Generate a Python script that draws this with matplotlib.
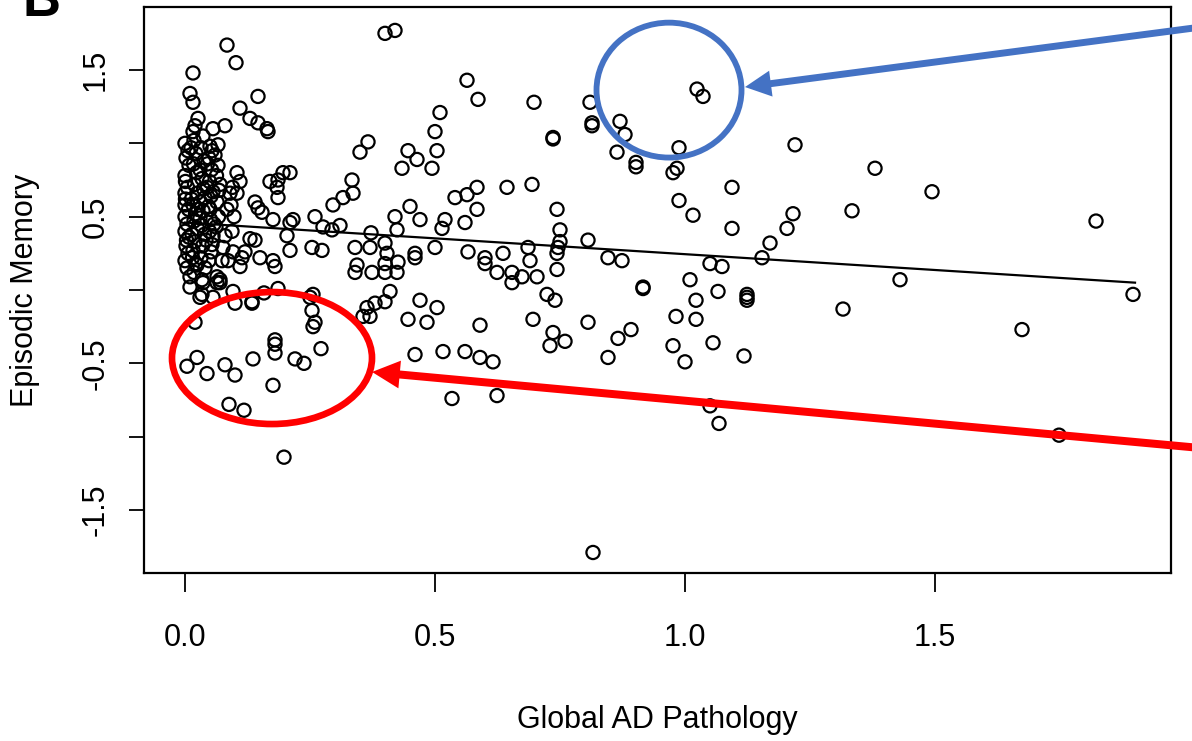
import matplotlib.pyplot as plt
from matplotlib.patches import Ellipse

plt.rcParams['font.family'] = ['Liberation Sans', 'DejaVu Sans']

# (global AD pathology, episodic memory) pairs
upper_pts = [
    (0.40, 1.75), (0.42, 1.77), (0.084, 1.67), (0.102, 1.55), (0.016, 1.48),
    (0.01, 1.34), (0.016, 1.28), (0.146, 1.32), (0.11, 1.24), (0.13, 1.17),
    (0.146, 1.14), (0.164, 1.10), (0.166, 1.08), (0.026, 1.17), (0.016, 1.08),
    (0.056, 1.10), (0.08, 1.12), (0.066, 0.99), (0.054, 0.95),
    (0.564, 1.43), (0.586, 1.30), (0.698, 1.28), (0.81, 1.28), (0.814, 1.14),
    (0.814, 1.12), (0.736, 1.04), (0.736, 1.03), (0.87, 1.15), (0.88, 1.06),
    (0.864, 0.94), (1.024, 1.37), (1.036, 1.32), (0.902, 0.87), (0.902, 0.84),
    (0.988, 0.97), (0.976, 0.80), (0.984, 0.83), (1.22, 0.99),
    (0.51, 1.21), (0.50, 1.08), (0.504, 0.95), (0.366, 1.01), (0.35, 0.94),
    (0.446, 0.95), (0.464, 0.89), (0.434, 0.83), (0.494, 0.83),
    (0.334, 0.75), (0.336, 0.66), (0.316, 0.63), (0.296, 0.58),
    (0.584, 0.70), (0.564, 0.65), (0.54, 0.63), (0.644, 0.70), (0.694, 0.72),
    (1.094, 0.70), (0.988, 0.61), (1.016, 0.51), (1.094, 0.42),
    (1.216, 0.52), (1.204, 0.42), (1.17, 0.32), (1.154, 0.22),
    (1.38, 0.83), (1.334, 0.54), (1.494, 0.67), (1.822, 0.47),
]

middle_pts = [
    (0.584, 0.55), (0.744, 0.55), (0.75, 0.41), (0.75, 0.33), (0.56, 0.46),
    (0.42, 0.50), (0.45, 0.57), (0.47, 0.48), (0.424, 0.41), (0.52, 0.48),
    (0.514, 0.42), (0.806, 0.34), (0.372, 0.39), (0.31, 0.44), (0.34, 0.29),
    (0.37, 0.29), (0.40, 0.32), (0.46, 0.25), (0.50, 0.29), (0.566, 0.26),
    (0.60, 0.22), (0.636, 0.25), (0.686, 0.29), (0.746, 0.29), (0.846, 0.22),
    (0.874, 0.20), (0.404, 0.25), (0.344, 0.17), (0.34, 0.12), (0.374, 0.12),
    (0.40, 0.12), (0.424, 0.12), (0.40, 0.18), (0.426, 0.19), (0.46, 0.22),
    (0.60, 0.18), (0.624, 0.12), (0.654, 0.12), (0.654, 0.05), (0.674, 0.09),
    (0.704, 0.09), (0.69, 0.20), (0.744, 0.14), (0.744, 0.25),
    (0.916, 0.02), (0.916, 0.01), (1.01, 0.07), (1.066, -0.01), (1.05, 0.18),
    (1.074, 0.16), (1.124, -0.03), (1.124, -0.05), (1.124, -0.07),
    (0.724, -0.03), (0.74, -0.07), (1.022, -0.07),
    (1.43, 0.07), (1.896, -0.03), (1.316, -0.13), (1.674, -0.27), (1.748, -0.99),
]

lower_pts = [
    (0.41, -0.01), (0.40, -0.08), (0.38, -0.09), (0.364, -0.12), (0.356, -0.18),
    (0.37, -0.18), (0.47, -0.07), (0.504, -0.12), (0.484, -0.22), (0.446, -0.20),
    (0.59, -0.24), (0.696, -0.20), (0.806, -0.22), (0.736, -0.29), (0.76, -0.35),
    (0.73, -0.38), (0.846, -0.46), (0.866, -0.33), (0.892, -0.27),
    (0.982, -0.18), (1.022, -0.20), (0.976, -0.38), (1.0, -0.49), (1.056, -0.36),
    (1.118, -0.45), (0.46, -0.44), (0.516, -0.42), (0.56, -0.42), (0.59, -0.46),
    (0.616, -0.49), (0.534, -0.74), (0.624, -0.72), (1.05, -0.79), (1.068, -0.91),
    (0.816, -1.79),
]

low_left_pts = [
    (0.02, -0.22), (0.004, -0.52), (0.024, -0.46), (0.044, -0.57), (0.08, -0.51),
    (0.10, -0.58), (0.136, -0.47), (0.18, -0.34), (0.18, -0.37), (0.18, -0.43),
    (0.22, -0.47), (0.238, -0.50), (0.272, -0.40), (0.256, -0.25), (0.254, -0.14),
    (0.25, -0.05), (0.176, -0.65), (0.088, -0.78), (0.118, -0.82), (0.198, -1.14),
    (0.10, -0.09), (0.134, -0.09), (0.158, -0.02), (0.186, 0.01), (0.03, -0.05),
    (0.064, 0.05),
]

left_pts = [
    (0.104, 0.80), (0.11, 0.74), (0.104, 0.66), (0.09, 0.66), (0.14, 0.60),
    (0.146, 0.56), (0.176, 0.48), (0.186, 0.75), (0.196, 0.80), (0.21, 0.80),
    (0.184, 0.70), (0.186, 0.63), (0.216, 0.48), (0.26, 0.50), (0.276, 0.43),
    (0.056, 0.67), (0.17, 0.74), (0.154, 0.53), (0.21, 0.46), (0.294, 0.41),
    (0.204, 0.37), (0.21, 0.27), (0.254, 0.29), (0.274, 0.27), (0.13, 0.35),
    (0.14, 0.34), (0.12, 0.26), (0.114, 0.22), (0.096, 0.26), (0.086, 0.20),
    (0.074, 0.20), (0.15, 0.22), (0.176, 0.20), (0.18, 0.16), (0.11, 0.16),
    (0.056, 0.37), (0.08, 0.37), (0.054, 0.31), (0.076, 0.29), (0.05, 0.55),
    (0.084, 0.55), (0.024, 0.17), (0.04, 0.15), (0.01, 0.09), (0.034, 0.07),
    (0.064, 0.09), (0.07, 0.07), (0.01, 0.02), (0.036, 0.05), (0.07, 0.05),
    (0.034, -0.03), (0.056, -0.05), (0.096, -0.01), (0.134, -0.08),
    (0.256, -0.03), (0.26, -0.22),
]

# the crowded column of cases with almost no pathology
cluster_pts = [
    (0.0, 1.00), (0.006, 0.95), (0.002, 0.90), (0.008, 0.85), (0.0, 0.78),
    (0.005, 0.70), (0.001, 0.62), (0.007, 0.55), (0.0, 0.50), (0.004, 0.45),
    (0.0, 0.40), (0.008, 0.36), (0.002, 0.30), (0.006, 0.25), (0.0, 0.20),
    (0.004, 0.15), (0.0, 0.58), (0.003, 0.34), (0.001, 0.74), (0.0, 0.66),
    (0.02, 1.12), (0.018, 1.02), (0.022, 0.93), (0.017, 0.86), (0.023, 0.80),
    (0.019, 0.72), (0.024, 0.66), (0.016, 0.58), (0.021, 0.52), (0.018, 0.47),
    (0.025, 0.42), (0.02, 0.33), (0.016, 0.27), (0.022, 0.18), (0.018, 0.12),
    (0.014, 0.38), (0.013, 0.62), (0.012, 0.97), (0.015, 0.22), (0.026, 0.55),
    (0.036, 1.05), (0.032, 0.97), (0.038, 0.88), (0.034, 0.76), (0.037, 0.69),
    (0.031, 0.60), (0.036, 0.54), (0.033, 0.44), (0.039, 0.38), (0.035, 0.30),
    (0.032, 0.22), (0.03, 0.82), (0.04, 0.63), (0.03, 0.49), (0.042, 0.34),
    (0.05, 0.98), (0.048, 0.90), (0.053, 0.82), (0.049, 0.74), (0.052, 0.64),
    (0.047, 0.57), (0.051, 0.48), (0.049, 0.40), (0.052, 0.26), (0.048, 0.20),
    (0.045, 0.86), (0.058, 0.45), (0.044, 0.70),
    (0.066, 0.85), (0.063, 0.78), (0.068, 0.68), (0.064, 0.60), (0.067, 0.50),
    (0.062, 0.43), (0.06, 0.92), (0.07, 0.72),
    (0.095, 0.70), (0.092, 0.58), (0.098, 0.50), (0.094, 0.40),
]

# fitted regression line, end points
fit_x = [0.0, 1.9]
fit_y = [0.46, 0.05]

x_ticks = [0.0, 0.5, 1.0, 1.5]
x_ticklabels = ['0.0', '0.5', '1.0', '1.5']
y_ticks = [-1.5, -1.0, -0.5, 0.0, 0.5, 1.0, 1.5]
y_ticklabels = ['-1.5', '', '-0.5', '', '0.5', '', '1.5']

all_pts = upper_pts + middle_pts + lower_pts + low_left_pts + left_pts + cluster_pts
xs = [p[0] for p in all_pts]
ys = [p[1] for p in all_pts]

fig = plt.figure(figsize=(11.92, 7.41), dpi=100)
ax = fig.add_axes([0.1208, 0.2267, 0.8616, 0.7639])

ax.scatter(xs, ys, s=90, facecolors='none', edgecolors='black', linewidths=1.6, zorder=3)
ax.plot(fit_x, fit_y, color='black', lw=1.6, zorder=2)

ax.set_xlim(-0.082, 1.972)
ax.set_ylim(-1.93, 1.93)

ax.set_xticks(x_ticks)
ax.set_xticklabels(x_ticklabels)
ax.set_yticks(y_ticks)
ax.set_yticklabels(y_ticklabels, rotation=90, va='center')
ax.tick_params(axis='x', length=14, width=1.3, pad=22, labelsize=22)
ax.tick_params(axis='y', length=11, width=1.3, pad=13, labelsize=22)
for sp in ax.spines.values():
    sp.set_linewidth(1.6)

ax.set_xlabel('Global AD Pathology', fontsize=22)
ax.xaxis.label.set_va('center')
ax.xaxis.set_label_coords(0.5, -0.26)
ax.set_ylabel('Episodic Memory', fontsize=22)
ax.yaxis.label.set_va('center')
ax.yaxis.set_label_coords(-0.116, 0.5)

# highlight ellipses
ax.add_patch(Ellipse((0.968, 1.363), 0.29, 0.92, fill=False,
                     edgecolor='#4472C4', lw=4.2, zorder=4))
ax.add_patch(Ellipse((0.174, -0.464), 0.40, 0.90, fill=False,
                     edgecolor='#FF0000', lw=4.8, zorder=4))

# arrows coming in from the right edge
ax.annotate('', xy=(1.12, 1.384), xycoords='data',
            xytext=(1.01, 0.964), textcoords='figure fraction',
            arrowprops=dict(arrowstyle='simple,head_length=0.75,head_width=0.75,tail_width=0.2',
                            fc='#4472C4', ec='none', lw=0, shrinkA=0, shrinkB=0,
                            mutation_scale=25),
            annotation_clip=False, zorder=5)
ax.annotate('', xy=(0.374, -0.559), xycoords='data',
            xytext=(1.01, 0.395), textcoords='figure fraction',
            arrowprops=dict(arrowstyle='simple,head_length=0.8,head_width=0.8,tail_width=0.23',
                            fc='#FF0000', ec='none', lw=0, shrinkA=0, shrinkB=0,
                            mutation_scale=25),
            annotation_clip=False, zorder=5)

# panel letter, cut by the top edge as in the source figure
fig.text(22 / 1192, 1 - 16 / 741, 'B', fontsize=38, fontweight='bold',
         ha='left', va='baseline')

fig.savefig('out.png', dpi=100)
